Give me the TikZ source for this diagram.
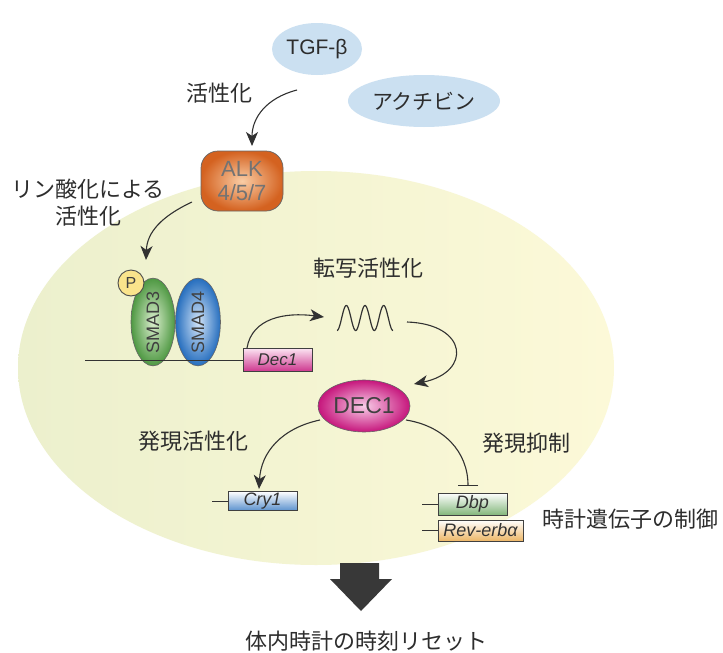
\documentclass[tikz,border=0pt]{standalone}
\usepackage{fontspec}
\setmainfont{Liberation Sans}
\newfontfamily\jp{Noto Sans CJK JP}
\usetikzlibrary{arrows.meta,shapes.geometric}
\definecolor{txt}{RGB}{45,45,45}
\definecolor{arrc}{RGB}{50,50,50}
\definecolor{cellL}{RGB}{236,240,205}
\definecolor{cellR}{RGB}{252,249,216}
\definecolor{ligand}{RGB}{203,224,241}
\definecolor{alkO}{RGB}{212,98,32}
\definecolor{alkI}{RGB}{250,205,165}
\definecolor{s3O}{RGB}{78,152,66}
\definecolor{s3I}{RGB}{218,238,205}
\definecolor{s4O}{RGB}{38,110,190}
\definecolor{s4I}{RGB}{210,228,248}
\definecolor{decO}{RGB}{198,22,124}
\definecolor{decI}{RGB}{248,205,232}
\definecolor{pfill}{RGB}{250,228,140}
\tikzset{
  jlab/.style={font=\jp\fontsize{22}{27}\selectfont, text=txt, inner sep=0pt, align=center},
  arr/.style={draw=arrc, line width=1.1pt, -{Stealth[length=14pt,width=12pt,inset=4pt]}},
  inh/.style={draw=arrc, line width=1.1pt, -{Bar[width=20pt,line width=1.1pt]}},
  genebox/.style={draw=black!75, line width=0.6pt, minimum height=20pt, inner sep=0pt, font=\itshape\fontsize{18}{20}\selectfont, text=black!80},
  lead/.style={draw=black!80, line width=0.8pt},
  blob/.style={ellipse, inner sep=0pt},
}
\begin{document}
\begin{tikzpicture}[x=1pt,y=-1pt]
\useasboundingbox (0,0) rectangle (723,653);
\fill[white] (0,0) rectangle (723,653);

% cell
\node[blob, minimum width=596pt, minimum height=394pt, left color=cellL, right color=cellR] (cell) at (316,368) {};

% ligands
\node[blob, fill=ligand, minimum width=90pt, minimum height=52pt, font=\fontsize{21}{23}\selectfont, text=txt] (tgf) at (317,49) {TGF-β};
\node[blob, fill=ligand, minimum width=152pt, minimum height=52pt, font=\jp\fontsize{21}{24}\selectfont, text=txt] (act) at (424,101) {アクチビン};

\node[jlab] (lab1) at (219,93) {活性化};
\coordinate (a1s) at (297,90);
\coordinate (a1e) at (252,146);

% ALK
\node[draw=black!60, line width=0.7pt, rounded corners=17pt, inner color=alkI, outer color=alkO, minimum width=82pt, minimum height=60pt, inner sep=0pt, align=center, font=\fontsize{22}{24}\selectfont, text=black!55] (alk) at (242,181) {ALK\\4/5/7};
\draw[arr] (a1s) .. controls (266,98) and (252,118) .. (a1e);

\node[jlab] (lab2) at (88,203) {リン酸化による\\活性化};
\coordinate (a2s) at (192,202);
\coordinate (a2e) at (146,260);
\draw[arr] (a2s) .. controls (162,216) and (147,232) .. (a2e);

% SMADs
\node[blob, rotate=90, minimum width=74pt, minimum height=44pt, draw=black!60, line width=0.6pt, inner color=s3I, outer color=s3O, font=\fontsize{18}{20}\selectfont, text=black!75] (smad3) at (153,322) {SMAD3};
\node[blob, rotate=90, minimum width=74pt, minimum height=45pt, draw=black!60, line width=0.6pt, inner color=s4I, outer color=s4O, font=\fontsize{18}{20}\selectfont, text=black!75] (smad4) at (198,322) {SMAD4};
\node[circle, draw=black!70, line width=0.9pt, fill=pfill, minimum size=26pt, inner sep=0pt, font=\fontsize{16}{18}\selectfont, text=black!75] (p) at (131,283) {P};

% DNA + Dec1
\node[genebox, minimum width=69pt, minimum height=23pt, top color=decI!50!white, bottom color=decO!85!white, font=\itshape\fontsize{17}{19}\selectfont] (dec1g) at (277.5,359.5) {Dec1};
\coordinate (dnaL) at (85,360);
\draw[lead] (dnaL) -- (dec1g.west |- dnaL);

\node[jlab] (lab3) at (368,268) {転写活性化};

% mRNA wave
\node[minimum width=56pt, minimum height=26pt, inner sep=0pt] (wave) at (364,318) {};
\draw[arrc, line width=1.2pt] plot[domain=0:1080, samples=120, smooth] ({337+\x/1080*56}, {318+12.5*cos(\x)});

\coordinate (a3s) at (247,348);
\coordinate (a3e) at (324,317);
\draw[arr] (a3s) .. controls (252,318) and (285,312) .. (a3e);

% DEC1 protein
\node[blob, minimum width=92pt, minimum height=52pt, draw=black!60, line width=0.6pt, inner color=decI, outer color=decO, font=\fontsize{23}{25}\selectfont, text=black!75] (dec1) at (364,406) {DEC1};
\coordinate (a4s) at (407,322);
\coordinate (a4e) at (414,384);
\draw[arr] (a4s) .. controls (468,324) and (472,372) .. (a4e);

\node[jlab] (lab4) at (193,441) {発現活性化};
\node[jlab] (lab5) at (526,443) {発現抑制};

% target genes
\node[genebox, minimum width=69pt, minimum height=19pt, top color=white, bottom color=s4O!75!white] (cry1) at (262.5,501) {Cry1};
\node[genebox, minimum width=69pt, minimum height=22pt, top color=white, bottom color=s3O!70!white] (dbp) at (472.5,504) {Dbp};
\node[genebox, minimum width=85pt, minimum height=21pt, top color=white, bottom color=alkO!35!pfill] (rev) at (480.5,530.5) {Rev-erbα};
\coordinate (cryL) at (212,501);
\coordinate (dbpL) at (422,504);
\coordinate (revL) at (422,530.5);
\draw[lead] (cryL) -- (cry1.west);
\draw[lead] (dbpL) -- (dbp.west);
\draw[lead] (revL) -- (rev.west);

\coordinate (a5s) at (320,420);
\coordinate (a5e) at (259,489);
\draw[arr] (a5s) .. controls (282,428) and (261,452) .. (a5e);
\coordinate (a6s) at (406,420);
\coordinate (a6e) at (468,486);
\draw[inh] (a6s) .. controls (444,426) and (468,452) .. (a6e);

\node[jlab] (lab6) at (630,519) {時計遺伝子の制御};

% big arrow
\fill[black!78] (340,563) -- (379,563) -- (379,579) -- (392,579) -- (361,611) -- (330,579) -- (340,579) -- cycle;
\node[inner sep=0pt] (bigarrow) at (361,590) {};

\node[jlab] (lab7) at (366,641) {体内時計の時刻リセット};
\end{tikzpicture}
\end{document}
